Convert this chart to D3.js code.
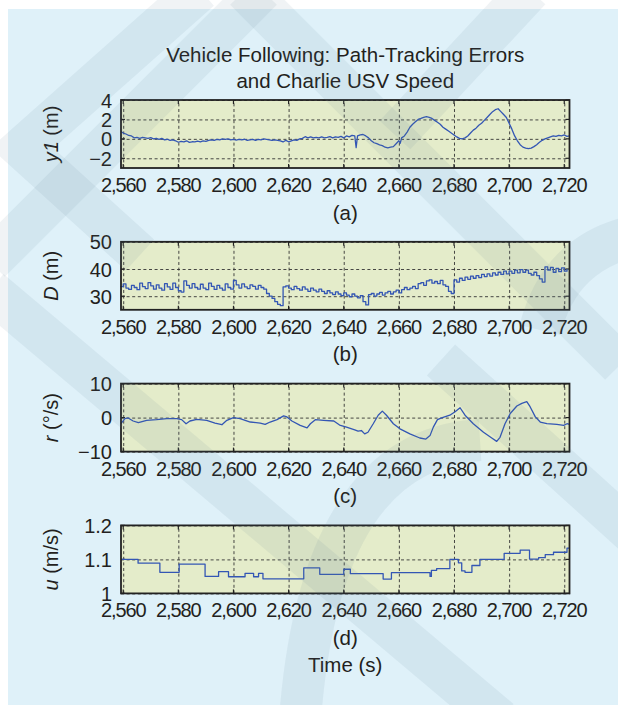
<!DOCTYPE html>
<html>
<head>
<meta charset="utf-8">
<script src="https://cdn.jsdelivr.net/npm/d3@7.9.0/dist/d3.min.js"></script>
<style>
  html, body { margin: 0; padding: 0; background: #fff; }
  svg { display: block; font-family: "Liberation Sans", Arial, Helvetica, sans-serif; }
</style>
</head>
<body>
<svg id="chart" width="618" height="705"></svg>
<script>
// ---- data ----
const timeTicks = [2560, 2580, 2600, 2620, 2640, 2660, 2680, 2700, 2720];
const timeDomain = [2559.2, 2721.9];

// (a) cross-track error y1 (m): [time, value]
const y1Series = [
  [2559.2,0.75],[2560,0.6],[2561,0.5],[2562,0.35],[2563,0.3],[2564,0.1],[2565,0.15],[2566,0.05],
  [2567,0.15],[2568,0.1],[2569,0.05],[2570,0.12],[2571,0.0],[2572,0.06],[2573,-0.05],[2574,0.05],
  [2575,-0.1],[2576,-0.04],[2577,-0.15],[2578,-0.1],[2579,-0.2],[2580,-0.35],[2581,-0.25],[2582,-0.32],
  [2583,-0.2],[2584,-0.36],[2585,-0.3],[2586,-0.32],[2587,-0.24],[2588,-0.3],[2589,-0.2],[2590,-0.26],
  [2591,-0.15],[2592,-0.1],[2593,-0.16],[2594,-0.05],[2595,-0.1],[2596,0.0],[2597,-0.06],[2598,0.0],
  [2599,-0.1],[2600,-0.05],[2601,-0.12],[2602,-0.05],[2603,-0.1],[2604,-0.04],[2605,-0.15],[2606,-0.1],
  [2607,-0.05],[2608,-0.16],[2609,-0.05],[2610,-0.1],[2611,0.0],[2612,-0.06],[2613,-0.1],[2614,-0.15],
  [2615,-0.1],[2616,-0.16],[2617,-0.2],[2618,-0.32],[2619,-0.15],[2620,-0.3],[2621,-0.2],[2622,-0.1],
  [2623,-0.16],[2624,0.0],[2625,0.05],[2626,0.22],[2627,0.1],[2628,0.2],[2629,0.1],[2630,0.16],
  [2631,0.1],[2632,0.2],[2633,0.1],[2634,0.15],[2635,0.22],[2636,0.1],[2637,0.2],[2638,0.15],
  [2639,0.26],[2640,0.1],[2641,0.3],[2642,0.2],[2643,0.36],[2644,0.3],[2644.5,-0.9],[2645,0.3],
  [2646,0.42],[2647,0.45],[2648,0.3],[2649,0.1],[2650,-0.2],[2651,-0.4],[2652,-0.5],[2653,-0.62],
  [2654,-0.7],[2655,-0.86],[2656,-0.92],[2657,-0.85],[2658,-0.8],[2659,-0.5],[2660,-0.2],[2660.5,-0.45],
  [2661,0.1],[2662,0.3],[2663,0.7],[2664,1.2],[2665,1.5],[2666,1.75],[2667,2.0],[2668,2.1],
  [2669,2.22],[2670,2.28],[2671,2.22],[2672,2.1],[2673,1.9],[2674,1.7],[2675,1.5],[2676,1.2],
  [2677,1.0],[2678,0.8],[2679,0.6],[2680,0.4],[2681,0.2],[2682,0.05],[2683,0.0],[2684,0.1],
  [2685,0.3],[2686,0.6],[2687,0.9],[2688,1.1],[2689,1.4],[2690,1.6],[2691,1.9],[2692,2.2],
  [2693,2.5],[2694,2.8],[2695,3.0],[2696,3.1],[2697,2.8],[2698,2.5],[2699,2.2],[2700,1.6],
  [2701,1.0],[2702,0.3],[2703,-0.2],[2704,-0.6],[2705,-0.85],[2706,-0.95],[2707,-1.0],[2708,-0.95],
  [2709,-0.8],[2710,-0.6],[2711,-0.35],[2712,-0.15],[2713,0.0],[2714,0.1],[2715,0.2],[2716,0.3],
  [2717,0.25],[2718,0.36],[2719,0.3],[2720,0.4],[2721,0.25],[2721.9,0.3]
];

// (b) separation distance D (m), one value per second from 2559
const dStart = 2559;
const dValues = [
  33.5,
  34.5,33.0,32.5,34.0,33.2,32.4,34.8,33.5,32.8,
  35.0,33.8,32.6,34.2,33.0,32.2,34.6,33.4,32.5,34.8,
  33.2,32.0,31.5,35.6,34.0,33.0,34.6,33.2,32.6,34.4,
  33.0,32.4,34.8,33.6,32.5,34.0,33.0,32.2,34.5,33.2,
  32.6,35.8,34.2,33.0,34.5,33.4,32.8,34.2,33.6,32.6,
  34.0,33.2,32.6,31.0,30.0,29.2,28.0,27.0,26.5,
  33.4,
  33.8,33.0,32.4,33.6,32.8,32.2,33.4,32.6,31.8,33.0,
  32.2,31.6,32.6,31.8,31.0,32.0,31.2,30.6,31.6,30.8,
  30.2,31.2,30.4,29.8,30.8,30.0,29.4,30.2,28.0,26.8,
  30.6,31.0,30.0,30.8,31.4,30.4,31.2,31.8,30.8,31.6,
  32.2,31.2,32.4,33.2,32.4,33.0,33.6,32.8,34.6,35.0,
  34.0,35.6,36.0,34.8,35.4,34.6,35.8,34.2,33.6,31.8,
  31.0,36.0,35.2,36.6,35.8,37.0,36.2,37.4,36.6,37.6,
  36.8,38.0,37.2,38.2,37.4,38.6,37.8,38.8,38.0,39.2,
  38.2,39.2,38.4,39.6,38.6,39.8,38.8,39.6,38.4,37.8,
  38.8,37.6,36.4,35.2,40.8,39.6,40.6,38.8,40.2,39.0,
  40.4,39.2,40.0
];

// (c) yaw rate r (deg/s): [time, value]
const rSeries = [
  [2559.2,-1.8],[2560.6,-0.3],[2561.8,-0.1],[2563.6,-1.0],[2565.5,-1.5],[2568.5,-0.8],[2572.1,-0.6],
  [2575.8,-0.3],[2579.4,-0.3],[2581.2,-0.6],[2582.8,-1.8],[2584.2,-1.0],[2586.7,-0.5],[2590.3,-0.8],
  [2593.3,-1.6],[2595.8,-2.1],[2597.6,-0.8],[2600,0.0],[2602.4,-0.3],[2606.1,-1.3],[2609.7,-1.6],
  [2611.5,-2.0],[2613.3,-1.3],[2615.8,-0.6],[2618.2,0.5],[2619.4,0.2],[2621.2,-1.0],[2624.2,-2.3],
  [2626.7,-3.0],[2627.9,-1.8],[2629.7,-0.6],[2632.7,-0.8],[2636.4,-1.0],[2638.5,-2.2],[2641,-2.8],
  [2644,-3.6],[2645.2,-4.0],[2646.4,-3.8],[2647.6,-4.8],[2648.8,-4.3],[2650.7,-1.8],[2652.5,0.7],
  [2654,1.9],[2655.5,0.7],[2658,-1.8],[2660.4,-3.3],[2664,-4.8],[2667.6,-6.0],[2669.8,-6.3],
  [2671.3,-5.3],[2672.5,-2.8],[2674,-0.6],[2675.5,-0.1],[2678.5,0.7],[2680.4,1.7],[2682.2,2.9],
  [2684,0.7],[2687,-1.8],[2690.7,-4.3],[2693.7,-6.0],[2695.5,-7.0],[2696.7,-5.8],[2698.5,-1.8],
  [2700.4,1.2],[2702.8,3.4],[2704.6,4.2],[2706.4,4.7],[2707.6,3.2],[2709.5,0.2],[2711.3,-1.3],
  [2713.7,-1.8],[2717.3,-2.0],[2719.8,-2.3],[2721,-1.8],[2721.9,-2.0]
];

// (d) surge speed u (m/s): step changes [time, value]
const uSteps = [
  [2559.2,1.100],[2565.4,1.089],[2573.3,1.062],[2580.3,1.086],[2589.7,1.050],[2594.6,1.064],
  [2598.2,1.049],[2604.2,1.059],[2607.3,1.049],[2609.1,1.059],[2610.7,1.043],[2625.5,1.075],
  [2631.3,1.056],[2640.0,1.071],[2642.4,1.058],[2654.3,1.042],[2657.3,1.061],[2671.3,1.050],
  [2671.8,1.068],[2673.7,1.073],[2678.5,1.100],[2681.6,1.090],[2682.8,1.066],[2684.0,1.062],
  [2686.5,1.082],[2689.4,1.100],[2698.2,1.118],[2704.0,1.127],[2707.4,1.101],[2710.7,1.105],
  [2713.1,1.114],[2716.1,1.121],[2721.0,1.133],[2721.9,1.133]
];

const panelLetters = ['(a)', '(b)', '(c)', '(d)'];
const titleLines = ['Vehicle Following: Path-Tracking Errors', 'and Charlie USV Speed'];

// ---- layout ----
const W = 618, H = 705;
const plotLeft = 121, plotRight = 569.5, plotH = 68;
const panelTops = [100, 241.8, 383.6, 525.4];
const ink = '#231f20';
const lineBlue = '#3356b4';

const svg = d3.select('#chart');

// background card
svg.append('rect').attr('width', W).attr('height', H).attr('fill', '#fff');
svg.append('rect').attr('x', 8).attr('y', 9).attr('width', W - 8).attr('height', H - 9).attr('fill', '#dff1f9');

const x = d3.scaleLinear().domain(timeDomain).range([plotLeft, plotRight]);

const panels = [
  {
    data: y1Series, domain: [-3, 4], ticks: [-2, 0, 2, 4],
    fmt: d => d < 0 ? '\u2212' + Math.abs(d) : String(d),
    label: [['y1', true], [' (m)', false]], curve: d3.curveLinear
  },
  {
    data: dValues.map((v, i) => [dStart + i, v]), domain: [25, 50], ticks: [30, 40, 50],
    fmt: d => String(d),
    label: [['D', true], [' (m)', false]], curve: d3.curveStepAfter
  },
  {
    data: rSeries, domain: [-10, 10], ticks: [-10, 0, 10],
    fmt: d => d < 0 ? '\u2212' + Math.abs(d) : String(d),
    label: [['r', true], [' (\u00b0/s)', false]], curve: d3.curveLinear
  },
  {
    data: uSteps, domain: [1, 1.2], ticks: [1, 1.1, 1.2],
    fmt: d => String(+d.toFixed(1)),
    label: [['u', true], [' (m/s)', false]], curve: d3.curveStepAfter
  }
];

panels.forEach((p, i) => {
  const top = panelTops[i], bottom = top + plotH;
  const y = d3.scaleLinear().domain(p.domain).range([bottom, top]);
  const g = svg.append('g');

  g.append('rect')
    .attr('x', plotLeft).attr('y', top)
    .attr('width', plotRight - plotLeft).attr('height', plotH)
    .attr('fill', '#e4ecca');

  // dashed grid
  g.append('g')
    .attr('transform', `translate(0,${bottom})`)
    .call(d3.axisBottom(x).tickValues(timeTicks).tickSize(-plotH).tickFormat(''))
    .call(a => a.select('.domain').remove())
    .selectAll('line').attr('stroke', '#333').attr('stroke-width', 0.9).attr('stroke-dasharray', '3,2.6');
  g.append('g')
    .attr('transform', `translate(${plotLeft},0)`)
    .call(d3.axisLeft(y).tickValues(p.ticks).tickSize(-(plotRight - plotLeft)).tickFormat(''))
    .call(a => a.select('.domain').remove())
    .selectAll('line').attr('stroke', '#333').attr('stroke-width', 0.9).attr('stroke-dasharray', '3,2.6');

  // inward tick marks on all four sides
  const tickLen = 4;
  [[bottom, -tickLen], [top, tickLen]].forEach(([yy, dir]) => {
    g.append('g').selectAll('line').data(timeTicks).join('line')
      .attr('x1', d => x(d)).attr('x2', d => x(d))
      .attr('y1', yy).attr('y2', yy + dir)
      .attr('stroke', '#222').attr('stroke-width', 1.2);
  });
  [[plotLeft, tickLen], [plotRight, -tickLen]].forEach(([xx, dir]) => {
    g.append('g').selectAll('line').data(p.ticks).join('line')
      .attr('x1', xx).attr('x2', xx + dir)
      .attr('y1', d => y(d)).attr('y2', d => y(d))
      .attr('stroke', '#222').attr('stroke-width', 1.2);
  });

  // series
  const line = d3.line().x(d => x(d[0])).y(d => y(d[1])).curve(p.curve);
  g.append('path')
    .datum(p.data)
    .attr('d', line)
    .attr('fill', 'none')
    .attr('stroke', lineBlue)
    .attr('stroke-width', 1.3)
    .attr('stroke-linejoin', 'round');

  // frame
  g.append('rect')
    .attr('x', plotLeft).attr('y', top)
    .attr('width', plotRight - plotLeft).attr('height', plotH)
    .attr('fill', 'none').attr('stroke', '#222').attr('stroke-width', 1.8);

  // x tick labels
  g.append('g').selectAll('text').data(timeTicks).join('text')
    .attr('x', d => x(d)).attr('y', bottom + 24)
    .attr('text-anchor', 'middle')
    .attr('font-size', 20).attr('letter-spacing', -1.1)
    .attr('fill', ink)
    .text(d => d3.format(',')(d));

  // y tick labels
  g.append('g').selectAll('text').data(p.ticks).join('text')
    .attr('x', plotLeft - 9).attr('y', d => y(d) + 7.5)
    .attr('text-anchor', 'end')
    .attr('font-size', 20)
    .attr('fill', ink)
    .text(p.fmt);

  // y axis label
  const lab = g.append('text')
    .attr('transform', `translate(58,${top + plotH / 2}) rotate(-90)`)
    .attr('text-anchor', 'middle')
    .attr('font-size', 20)
    .attr('fill', ink);
  p.label.forEach(([t, it]) => lab.append('tspan').attr('font-style', it ? 'italic' : 'normal').text(t));

  // panel letter
  g.append('text')
    .attr('x', (plotLeft + plotRight) / 2).attr('y', bottom + 51.5)
    .attr('text-anchor', 'middle')
    .attr('font-size', 20.5)
    .attr('fill', ink)
    .text(panelLetters[i]);
});

// title
svg.append('g').selectAll('text').data(titleLines).join('text')
  .attr('x', (plotLeft + plotRight) / 2)
  .attr('y', (d, i) => 61.5 + i * 26)
  .attr('text-anchor', 'middle')
  .attr('font-size', 20.5)
  .attr('fill', ink)
  .text(d => d);

// x axis title
svg.append('text')
  .attr('x', (plotLeft + plotRight) / 2).attr('y', 672)
  .attr('text-anchor', 'middle')
  .attr('font-size', 20.5)
  .attr('fill', ink)
  .text('Time (s)');

// faint print watermark over the figure
const watermark = [
  'M200,-10 L22,148 L140,255',
  'M262,-10 L-10,262',
  'M245,-10 L620,365',
  'M530,-10 L395,135',
  'M-10,290 L500,720',
  'M441,360 L640,540',
  'M300,720 Q320,450 480,440',
  'M540,330 Q560,250 640,235'
];
svg.append('g').selectAll('path').data(watermark).join('path')
  .attr('d', d => d)
  .attr('fill', 'none')
  .attr('stroke', 'rgb(90,120,140)')
  .attr('stroke-opacity', 0.09)
  .attr('stroke-width', 42)
  .attr('stroke-linejoin', 'miter');
</script>
</body>
</html>
